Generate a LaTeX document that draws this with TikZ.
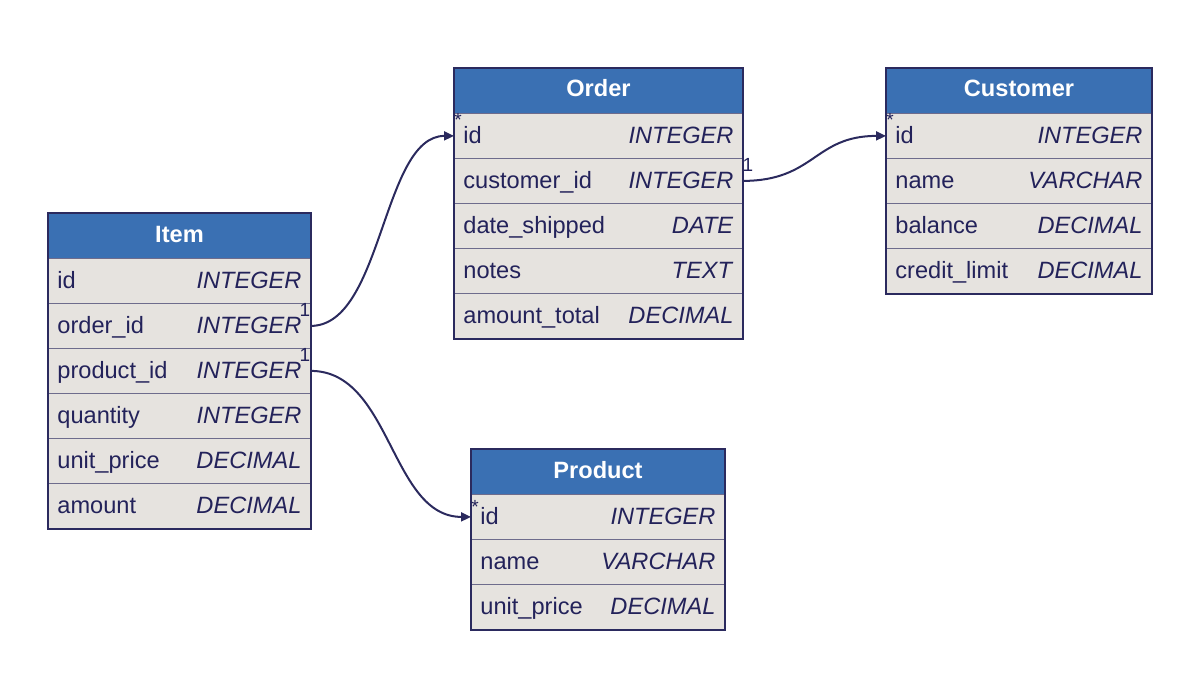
\documentclass[tikz,border=0pt]{standalone}
\usepackage{fontspec}
\setmainfont{Liberation Sans}
\usetikzlibrary{arrows.meta,calc}
\definecolor{hdrc}{HTML}{3A70B3}
\definecolor{bodyc}{HTML}{E6E3DF}
\definecolor{bordc}{HTML}{2B2A5E}
\definecolor{sepc}{HTML}{6E6C8C}
\definecolor{txtc}{HTML}{23225A}
\newcommand\fsz{\fontsize{23.6}{28}\selectfont}
\newcommand\fieldrow[6]{\node[fld] (#1) at (#2,#3) {\makebox[\dimexpr#4pt-18pt\relax]{#5\hfill\textit{#6}}};}
\newcommand\headrow[5]{\node[hdr, minimum width=#4pt] (#1) at (#2,#3) {#5};}
\tikzset{
  hdr/.style={draw=bordc, fill=hdrc, line width=1pt, text=white, font=\bfseries\fsz,
    minimum height=45pt, anchor=north west, inner sep=0pt, text height=17pt, text depth=5pt},
  fld/.style={draw=sepc, fill=bodyc, line width=0.8pt, text=txtc, font=\fsz,
    minimum height=45pt, anchor=north west, inner xsep=9pt, inner ysep=0pt, text height=19pt, text depth=3pt},
  frame/.style={draw=bordc, line width=2pt},
  conn/.style={draw=bordc, line width=2pt, -{Triangle[length=10pt,width=9pt]}},
  card/.style={text=txtc, font=\fontsize{19}{22}\selectfont, inner sep=0pt},
}
\begin{document}
\begin{tikzpicture}[x=1pt,y=-1pt]
\useasboundingbox (0,0) rectangle (1178,682);
% Item
\headrow{item}{48}{213}{262}{Item}
\fieldrow{item-id}{48}{258}{262}{id}{INTEGER}
\fieldrow{item-order}{48}{303}{262}{order\_id}{INTEGER}
\fieldrow{item-product}{48}{348}{262}{product\_id}{INTEGER}
\fieldrow{item-qty}{48}{393}{262}{quantity}{INTEGER}
\fieldrow{item-price}{48}{438}{262}{unit\_price}{DECIMAL}
\fieldrow{item-amount}{48}{483}{262}{amount}{DECIMAL}
\draw[frame] (item.north west) rectangle (item-amount.south east);
% Order
\headrow{order}{454}{68}{288}{Order}
\fieldrow{order-id}{454}{113}{288}{id}{INTEGER}
\fieldrow{order-cust}{454}{158}{288}{customer\_id}{INTEGER}
\fieldrow{order-date}{454}{203}{288}{date\_shipped}{DATE}
\fieldrow{order-notes}{454}{248}{288}{notes}{TEXT}
\fieldrow{order-total}{454}{293}{288}{amount\_total}{DECIMAL}
\draw[frame] (order.north west) rectangle (order-total.south east);
% Customer
\headrow{cust}{886}{68}{265}{Customer}
\fieldrow{cust-id}{886}{113}{265}{id}{INTEGER}
\fieldrow{cust-name}{886}{158}{265}{name}{VARCHAR}
\fieldrow{cust-bal}{886}{203}{265}{balance}{DECIMAL}
\fieldrow{cust-limit}{886}{248}{265}{credit\_limit}{DECIMAL}
\draw[frame] (cust.north west) rectangle (cust-limit.south east);
% Product
\headrow{prod}{471}{449}{253}{Product}
\fieldrow{prod-id}{471}{494}{253}{id}{INTEGER}
\fieldrow{prod-name}{471}{539}{253}{name}{VARCHAR}
\fieldrow{prod-price}{471}{584}{253}{unit\_price}{DECIMAL}
\draw[frame] (prod.north west) rectangle (prod-price.south east);
% connectors
\draw[conn] (item-order.east) .. controls +(72,0) and +(-72,0) .. (order-id.west);
\draw[conn] (order-cust.east) .. controls +(72,0) and +(-72,0) .. (cust-id.west);
\draw[conn] (item-product.east) .. controls +(80.5,0) and +(-80.5,0) .. (prod-id.west);
% cardinalities
\node[card] (c1a) at (305,310) {1};
\node[card] (c1b) at (458,120) {*};
\node[card] (c2a) at (748,165) {1};
\node[card] (c2b) at (890,120) {*};
\node[card] (c3a) at (305,355) {1};
\node[card] (c3b) at (475,507) {*};
\end{tikzpicture}
\end{document}
